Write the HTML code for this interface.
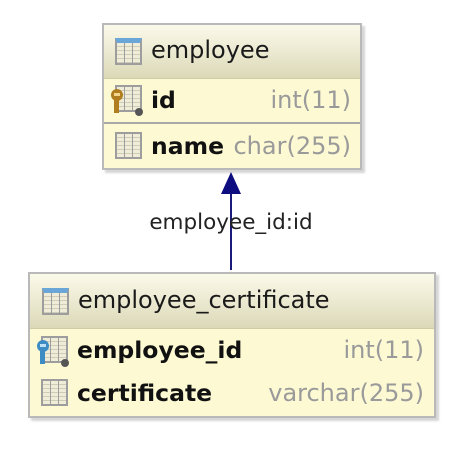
<!DOCTYPE html>
<html><head><style>
body{margin:0;width:471px;height:466px;background:#fff;position:relative;font-family:"DejaVu Sans","Liberation Sans",sans-serif;overflow:hidden}
.box{position:absolute;border:2px solid #b9b9b9;background:#fcf9d3;box-shadow:3px 3px 2px #d6d6d6}
.hdr{position:absolute;left:0;right:0;top:0;background:linear-gradient(#fbfaea,#dcd9b8);border-bottom:1px solid #cfcca8}
.t{position:absolute;font-size:24px;color:#1a1a1a;line-height:28px}
.b{position:absolute;font-size:23.5px;font-weight:bold;color:#111;line-height:28px}
.g{position:absolute;font-size:24px;color:#9a9a9a;line-height:28px}
.ic{position:absolute;width:23px;height:23px;border:2px solid #9d9d9d;background:repeating-linear-gradient(#efedd8 0 3px,#cfcdb8 3px 4px)}
.ic:before{content:"";position:absolute;left:7px;top:0;bottom:0;width:1px;background:#9d9d9d}
.ic:after{content:"";position:absolute;left:15px;top:0;bottom:0;width:1px;background:#9d9d9d}
.ic.h{border-top:5px solid #6aa7d8;height:20px}
.dot{position:absolute;width:8px;height:8px;border-radius:50%;background:#555}
</style></head><body>

<div class="box" style="left:102px;top:23px;width:256px;height:143px">
 <div class="hdr" style="height:53px"></div>
 <div class="ic h" style="left:11px;top:13px"></div>
 <div class="t" style="left:47px;top:11px">employee</div>
 <div class="ic" style="left:11px;top:60px"></div>
 <svg style="position:absolute;left:6px;top:64px" width="14" height="26"><circle cx="7" cy="6" r="6" fill="#b07e1e"/><rect x="4" y="6" width="5" height="18" fill="#b07e1e"/><rect x="4" y="4" width="6" height="3" fill="#f3d58c"/></svg>
 <div class="dot" style="left:31px;top:83px"></div>
 <div class="b" style="left:47px;top:61px">id</div>
 <div class="g" style="right:9px;top:61px">int(11)</div>
 <div style="position:absolute;left:0;right:0;top:97px;height:2px;background:#a8a8a8"></div>
 <div class="ic" style="left:11px;top:107px"></div>
 <div class="b" style="left:47px;top:107px">name</div>
 <div class="g" style="right:9px;top:107px">char(255)</div>
</div>

<svg style="position:absolute;left:0;top:0" width="471" height="466">
 <line x1="231" y1="190" x2="231" y2="270" stroke="#1a1a7a" stroke-width="2"/>
 <polygon points="231,172 221,194 241,194" fill="#0d0d80"/>
 <text x="231" y="229" text-anchor="middle" font-family="DejaVu Sans, Liberation Sans, sans-serif" font-size="21.5" fill="#222">employee_id:id</text>
</svg>

<div class="box" style="left:28px;top:272px;width:404px;height:142px">
 <div class="hdr" style="height:54px"></div>
 <div class="ic h" style="left:12px;top:14px"></div>
 <div class="t" style="left:48px;top:12px">employee_certificate</div>
 <div class="ic" style="left:11px;top:62px"></div>
 <svg style="position:absolute;left:6px;top:66px" width="14" height="26"><circle cx="7" cy="6" r="6" fill="#3d8cc4"/><rect x="4" y="6" width="5" height="18" fill="#3d8cc4"/><rect x="4" y="4" width="6" height="3" fill="#bfe0f5"/></svg>
 <div class="dot" style="left:31px;top:85px"></div>
 <div class="b" style="left:47px;top:62px">employee_id</div>
 <div class="g" style="right:10px;top:62px">int(11)</div>
 <div class="ic" style="left:11px;top:105px"></div>
 <div class="b" style="left:47px;top:105px">certificate</div>
 <div class="g" style="right:10px;top:105px">varchar(255)</div>
</div>
</body></html>
